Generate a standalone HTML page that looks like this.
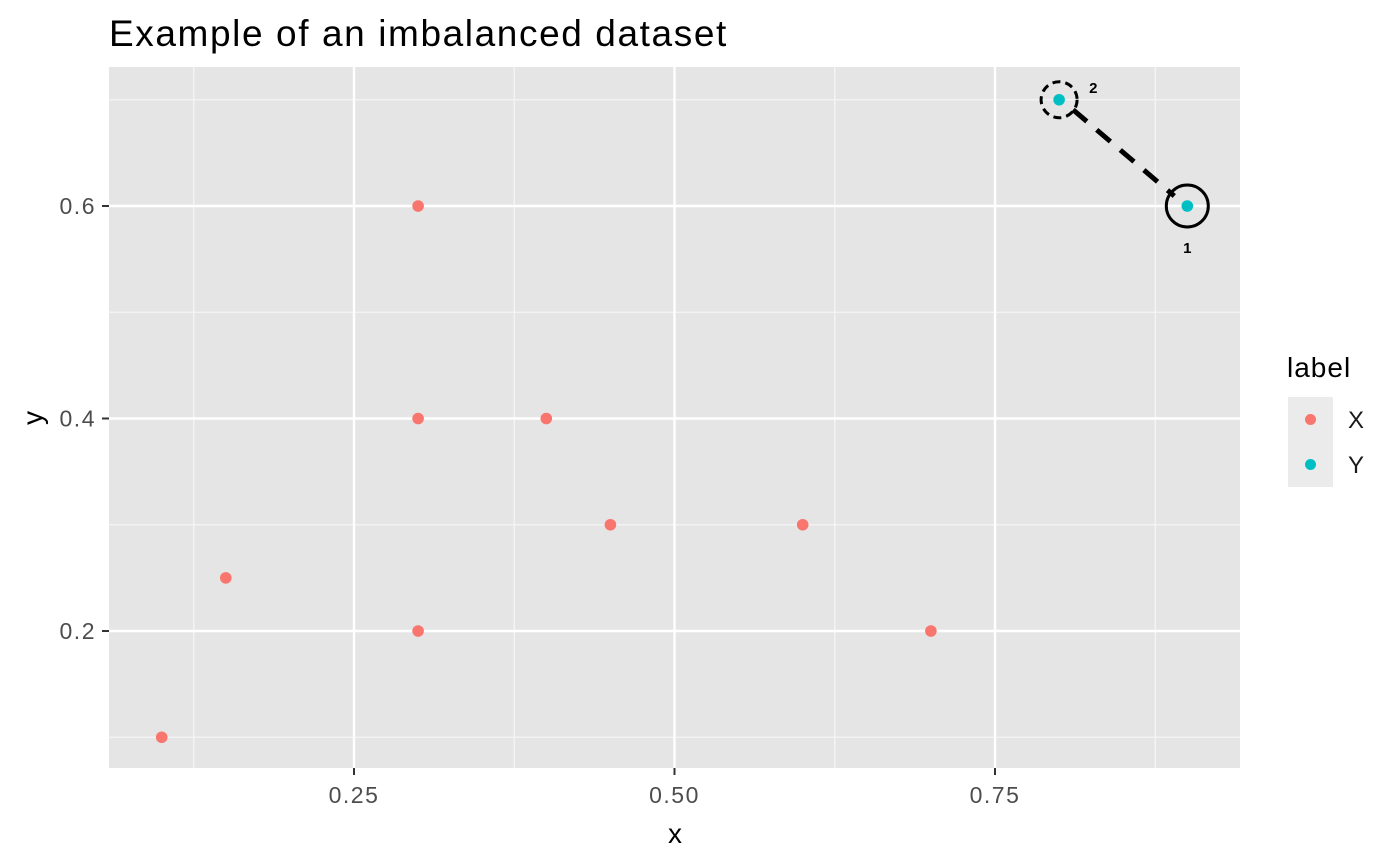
<!DOCTYPE html>
<html><head><meta charset="utf-8"><style>body{margin:0;background:#fff}svg{display:block;font-family:"Liberation Sans","Noto Sans CJK JP",sans-serif}</style></head>
<body>
<svg id="c" width="1400" height="865">
<text x="109" y="46" font-size="37" letter-spacing="1.6" fill="#000">Example of an imbalanced dataset</text>
<rect x="109" y="67" width="1131" height="701" fill="#e5e5e5"/>
<g id="grid"></g><g id="marks"></g><g id="axes"></g>
<text x="675" y="843" font-size="28" text-anchor="middle">x</text>
<text transform="translate(42,418) rotate(-90)" font-size="28" text-anchor="middle">y</text>
<g>
<text x="1287" y="377" font-size="28" letter-spacing="1">label</text>
<rect x="1288" y="397" width="45" height="45" fill="#ebebeb"/>
<circle cx="1310.5" cy="419.5" r="5.5" fill="#F8766D"/>
<text x="1348" y="428" font-size="24" fill="#1a1a1a">X</text>
<rect x="1288" y="442" width="45" height="45" fill="#ebebeb"/>
<circle cx="1310.5" cy="464.5" r="5.5" fill="#00BFC4"/>
<text x="1348" y="473" font-size="24" fill="#1a1a1a">Y</text>
</g>
</svg>
<script>
const xsX=[0.1,0.15,0.3,0.3,0.3,0.4,0.45,0.6,0.7];
const ysX=[0.1,0.25,0.6,0.4,0.2,0.4,0.3,0.3,0.2];
const xsY=[0.8,0.9];
const ysY=[0.7,0.6];
const xTicks=[0.25,0.5,0.75];
const xTickLabels=["0.25","0.50","0.75"];
const yTicks=[0.2,0.4,0.6];
const yTickLabels=["0.2","0.4","0.6"];
const xMinor=[0.125,0.375,0.625,0.875];
const yMinor=[0.1,0.3,0.5,0.7];
const sx=v=>354+(v-0.25)*1282, sy=v=>206-(v-0.6)*1062.5;
const NS="http://www.w3.org/2000/svg";
function mk(p,t,a){const e=document.createElementNS(NS,t);for(const k in a)e.setAttribute(k,a[k]);document.getElementById(p).appendChild(e);return e;}
xMinor.forEach(v=>{const e=mk('grid','line',{x1:sx(v),x2:sx(v),y1:67,y2:768,stroke:'#f5f5f5','stroke-width':1.3});

});
yMinor.forEach(v=>{const e=mk('grid','line',{y1:sy(v),y2:sy(v),x1:109,x2:1240,stroke:'#f5f5f5','stroke-width':1.3});

});
xTicks.forEach((v,i)=>{const e=mk('grid','line',{x1:sx(v),x2:sx(v),y1:67,y2:768,stroke:'#fff','stroke-width':2.4});


mk('axes','line',{x1:sx(v),x2:sx(v),y1:768,y2:775,stroke:'#333','stroke-width':2});
const t=mk('axes','text',{x:sx(v),y:803,'font-size':23,'letter-spacing':1.5,fill:'#4d4d4d','text-anchor':'middle'});t.textContent=xTickLabels[i];

});
yTicks.forEach((v,i)=>{const e=mk('grid','line',{y1:sy(v),y2:sy(v),x1:109,x2:1240,stroke:'#fff','stroke-width':2.4});


mk('axes','line',{x1:102,x2:109,y1:sy(v),y2:sy(v),stroke:'#333','stroke-width':2});
const t=mk('axes','text',{x:96,y:sy(v)+8,'font-size':23,'letter-spacing':1.5,fill:'#4d4d4d','text-anchor':'end'});t.textContent=yTickLabels[i];

});
const ln=mk('marks','line',{x1:sx(xsY[0])+14,y1:sy(ysY[0])+10,x2:sx(xsY[1])-13,y2:sy(ysY[1])-10,stroke:'#000','stroke-width':5,'stroke-dasharray':'18 13'});


const c2=mk('marks','circle',{cx:sx(xsY[0]),cy:sy(ysY[0]),r:18,fill:'none',stroke:'#000','stroke-width':3,'stroke-dasharray':'8 5'});


const c1=mk('marks','circle',{cx:sx(xsY[1]),cy:sy(ysY[1]),r:21,fill:'none',stroke:'#000','stroke-width':3});


const l2=mk('marks','text',{x:sx(xsY[0])+30,y:sy(ysY[0])-7,'font-size':15,'font-weight':'bold'});l2.textContent='2';


const l1=mk('marks','text',{x:sx(xsY[1]),y:sy(ysY[1])+47,'font-size':15,'font-weight':'bold','text-anchor':'middle'});l1.textContent='1';


xsX.forEach((v,i)=>{const e=mk('marks','circle',{cx:sx(v),cy:sy(ysX[i]),r:5.8,fill:'#F8766D'});

});
xsY.forEach((v,i)=>{const e=mk('marks','circle',{cx:sx(v),cy:sy(ysY[i]),r:5.8,fill:'#00BFC4'});

});
</script>
</body></html>
